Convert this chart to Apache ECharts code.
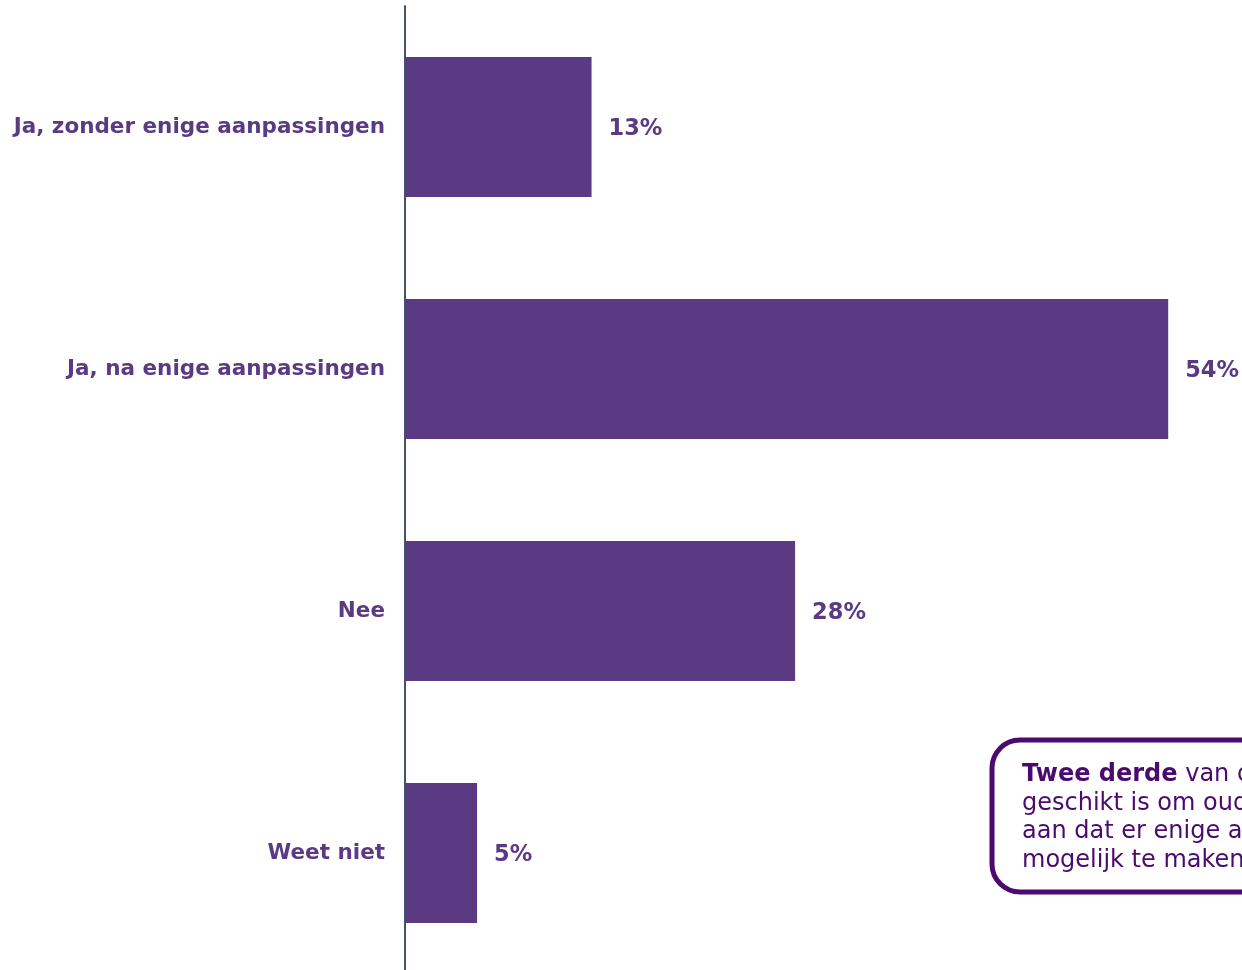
<!DOCTYPE html>
<html><head><meta charset="utf-8">
<script src="https://cdn.jsdelivr.net/npm/echarts@6/dist/echarts.min.js"></script>
<style>html,body{margin:0;padding:0;background:#fff}#c{width:1242px;height:970px}</style>
</head><body><div id="c"></div>
<script>
const categories = ["Ja, zonder enige aanpassingen", "Ja, na enige aanpassingen", "Nee", "Weet niet"];
const values = [13.2, 54.0, 27.6, 5.1];
const labels = ["13%", "54%", "28%", "5%"];
const noteBold = "Twee derde";
const noteLines = [" van de respondenten geeft aan dat het gebouw", "geschikt is om ouderen te huisvesten. Wel geeft men", "aan dat er enige aanpassingen nodig zijn om dit", "mogelijk te maken."];

const chart = echarts.init(document.getElementById('c'), null, {renderer: 'canvas'});
const purple = '#5B3A84';
chart.setOption({
  animation: false,
  grid: {left: 405, top: 6, width: 848, height: 968, containLabel: false, outerBoundsMode: 'none'},
  xAxis: {type: 'value', min: 0, max: 60, show: false},
  yAxis: {
    type: 'category', data: categories, inverse: true,
    axisLine: {show: true, lineStyle: {color: '#44546A', width: 2}},
    axisTick: {show: false},
    axisLabel: {color: purple, fontFamily: 'DejaVu Sans', fontWeight: 'bold', fontSize: 21.5, margin: 20, padding: [4, 0, 0, 0]}
  },
  series: [{
    type: 'bar', data: values, barWidth: 140,
    itemStyle: {color: purple},
    label: {show: true, position: 'right', distance: 17, offset: [0, 2], color: purple, fontFamily: 'DejaVu Sans', fontWeight: 'bold', fontSize: 22.5,
      formatter: p => labels[p.dataIndex]}
  }],
  graphic: [
    {type: 'rect', shape: {x: 992, y: 740, width: 420, height: 152, r: 28},
     style: {fill: '#fff', stroke: '#4B0A6E', lineWidth: 5}, z: 10},
    {type: 'text', x: 1022, y: 761, z: 11,
     style: {
       text: '{b|' + noteBold + '}{n|' + noteLines[0] + '}\n{n|' + noteLines.slice(1).join('}\n{n|') + '}',
       fontFamily: 'DejaVu Sans', fontSize: 24, lineHeight: 28.5, fill: '#4B0A6E',
       rich: {
         b: {fontFamily: 'DejaVu Sans', fontWeight: 'bold', fontSize: 24, lineHeight: 28.5, fill: '#4B0A6E'},
         n: {fontFamily: 'DejaVu Sans', fontSize: 24, lineHeight: 28.5, fill: '#4B0A6E'}
       }
     }}
  ]
});
</script></body></html>
